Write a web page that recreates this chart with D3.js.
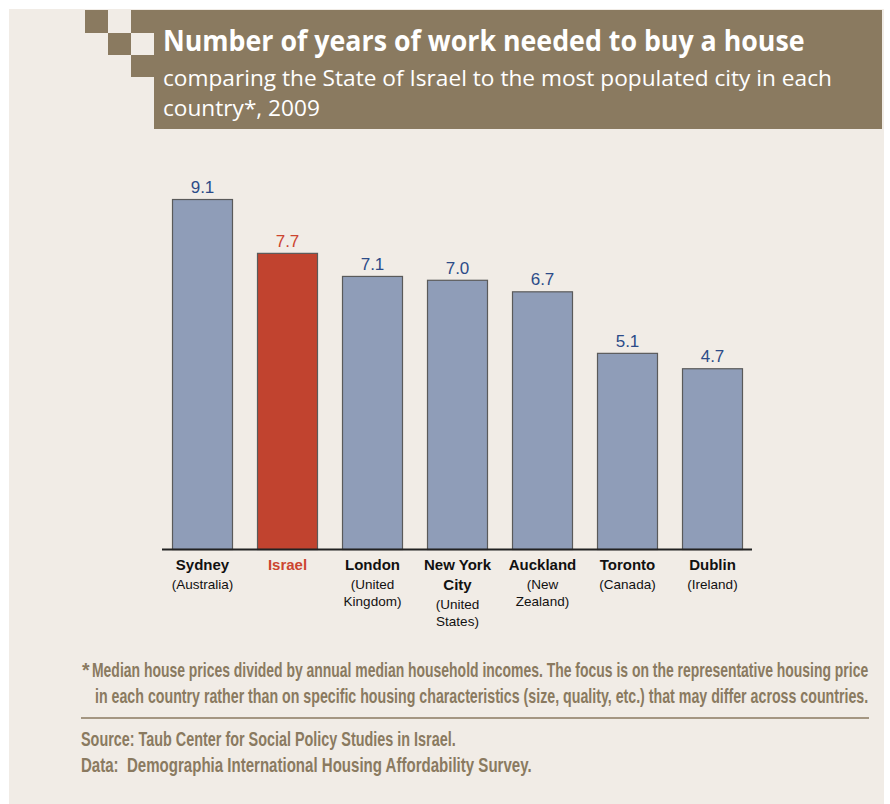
<!DOCTYPE html>
<html>
<head>
<meta charset="utf-8">
<script src="https://cdn.jsdelivr.net/npm/d3@7"></script>
<style>
  body { margin: 0; background: #ffffff; }
  svg { display: block; }
</style>
</head>
<body>
<div id="chart"></div>
<script>
(function() {
  'use strict';

  var cities = ["Sydney", "Israel", "London", "New York City", "Auckland", "Toronto", "Dublin"];
  var cityLines = [["Sydney"], ["Israel"], ["London"], ["New York", "City"], ["Auckland"], ["Toronto"], ["Dublin"]];
  var countryLines = [["(Australia)"], [], ["(United", "Kingdom)"], ["(United", "States)"], ["(New", "Zealand)"], ["(Canada)"], ["(Ireland)"]];
  var values = [9.1, 7.7, 7.1, 7.0, 6.7, 5.1, 4.7];
  var highlight = "Israel";

  var width = 890;
  var height = 804;
  var brown = "#8a7a60";

  var svg = d3.select("#chart")
    .append("svg")
    .attr("width", width)
    .attr("height", height);

  // squeeze a text horizontally to a given width (condensed look)
  function fitText(sel, x0, y0, w) {
    var natural = sel.node().getComputedTextLength();
    sel.attr("transform", "translate(" + x0 + "," + y0 + ") scale(" + (w / natural) + ",1)");
    return sel;
  }

  // panel background
  svg.append("rect")
    .attr("x", 9).attr("y", 9)
    .attr("width", 875).attr("height", height - 9)
    .attr("fill", "#f1ece6");

  // header blocks
  var blocks = [
    [154, 10, 728, 119],
    [131, 10, 23, 23],
    [131, 55, 23, 22],
    [108, 33, 23, 22],
    [85, 10, 23, 23]
  ];
  svg.selectAll("rect.block")
    .data(blocks)
    .enter().append("rect")
    .attr("class", "block")
    .attr("x", function (d) { return d[0]; })
    .attr("y", function (d) { return d[1]; })
    .attr("width", function (d) { return d[2]; })
    .attr("height", function (d) { return d[3]; })
    .attr("fill", brown);

  var head = svg.append("g")
    .attr("font-family", "'Open Sans', sans-serif")
    .attr("fill", "#ffffff");

  fitText(head.append("text")
    .attr("font-weight", "bold")
    .attr("font-size", 28)
    .text("Number of years of work needed to buy a house"), 163, 51, 642);

  fitText(head.append("text")
    .attr("font-size", 22.5)
    .text("comparing the State of Israel to the most populated city in each"), 163, 86, 669);

  fitText(head.append("text")
    .attr("font-size", 22.5)
    .text("country*, 2009"), 163, 116, 157);

  // scales
  var x = d3.scaleBand()
    .domain(cities)
    .range([160, 755])
    .paddingInner(0.2824)
    .paddingOuter(0.1412);

  var y = d3.scaleLinear()
    .domain([0, 10])
    .range([549, 164.4]);

  var rows = cities.map(function (c, i) {
    return { city: c, value: values[i], names: cityLines[i], sub: countryLines[i] };
  });

  var g = svg.append("g");

  g.selectAll("rect.bar")
    .data(rows)
    .enter().append("rect")
    .attr("class", "bar")
    .attr("x", function (d) { return x(d.city) + 0.5; })
    .attr("y", function (d) { return y(d.value) + 0.5; })
    .attr("width", x.bandwidth() - 1)
    .attr("height", function (d) { return y(0) - y(d.value); })
    .attr("fill", function (d) { return d.city === highlight ? "#c1432f" : "#8f9db8"; })
    .attr("stroke", "#5a5a5a")
    .attr("stroke-width", 1.2);

  g.selectAll("text.val")
    .data(rows)
    .enter().append("text")
    .attr("class", "val")
    .attr("x", function (d) { return x(d.city) + x.bandwidth() / 2; })
    .attr("y", function (d) { return y(d.value) - 6; })
    .attr("text-anchor", "middle")
    .attr("font-family", "'Liberation Sans', Arial, sans-serif")
    .attr("font-size", 17)
    .attr("fill", function (d) { return d.city === highlight ? "#cc4530" : "#2c4b88"; })
    .text(function (d) { return d3.format(".1f")(d.value); });

  // baseline
  g.append("line")
    .attr("x1", x.range()[0] + 2).attr("x2", x.range()[1] - 3)
    .attr("y1", y(0) + 0.5).attr("y2", y(0) + 0.5)
    .attr("stroke", "#222222")
    .attr("stroke-width", 2);

  // category labels
  var labels = g.selectAll("g.lab")
    .data(rows)
    .enter().append("g")
    .attr("class", "lab")
    .attr("transform", function (d) { return "translate(" + (x(d.city) + x.bandwidth() / 2) + ",0)"; });

  labels.each(function (d) {
    var el = d3.select(this);
    var yy = 570;
    d.names.forEach(function (n, k) {
      el.append("text")
        .attr("y", yy + k * 20)
        .attr("text-anchor", "middle")
        .attr("font-family", "'Liberation Sans', Arial, sans-serif")
        .attr("font-weight", "bold")
        .attr("font-size", 15)
        .attr("fill", d.city === highlight ? "#cc4530" : "#111111")
        .text(n);
    });
    var ys = yy + (d.names.length - 1) * 20 + 19;
    d.sub.forEach(function (n, k) {
      el.append("text")
        .attr("y", ys + k * 17)
        .attr("text-anchor", "middle")
        .attr("font-family", "'Liberation Sans', Arial, sans-serif")
        .attr("font-size", 13.5)
        .attr("fill", "#111111")
        .text(n);
    });
  });

  // footnotes
  var foot = svg.append("g")
    .attr("font-family", "'Liberation Sans Narrow', 'Arial Narrow', 'Liberation Sans', sans-serif")
    .attr("font-weight", "bold")
    .attr("font-size", 19.5)
    .attr("fill", brown);

  foot.append("text").attr("x", 82).attr("y", 677).text("*");
  fitText(foot.append("text")
    .text("Median house prices divided by annual median household incomes. The focus is on the representative housing price"),
    92, 677, 777);
  fitText(foot.append("text")
    .text("in each country rather than on specific housing characteristics (size, quality, etc.) that may differ across countries."),
    95, 703, 774);

  foot.append("line")
    .attr("x1", 81).attr("x2", 869)
    .attr("y1", 718).attr("y2", 718)
    .attr("stroke", brown)
    .attr("stroke-width", 1.5);

  fitText(foot.append("text")
    .text("Source: Taub Center for Social Policy Studies in Israel."), 81, 746, 375);
  fitText(foot.append("text")
    .text("Data:  Demographia International Housing Affordability Survey.").attr("xml:space", "preserve"), 81, 772, 451);
})();
</script>
</body>
</html>
